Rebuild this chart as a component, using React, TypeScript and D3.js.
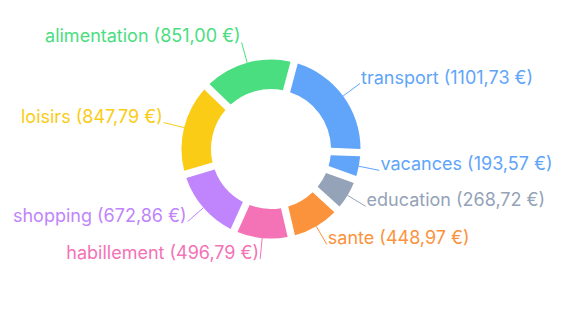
import React from 'react';
import * as d3 from 'd3';

const categories = ['transport', 'vacances', 'education', 'sante', 'habillement', 'shopping', 'loisirs', 'alimentation'];
const amounts = [1101.73, 193.57, 268.72, 448.97, 496.79, 672.86, 847.79, 851.0];
const colors = ['#60a5fa', '#60a5fa', '#94a3b8', '#fb923c', '#f472b6', '#c084fc', '#facc15', '#4ade80'];

const width = 570;
const height = 319;
const cx = 271;
const cy = 149;
const outerRadius = 89.5;
const innerRadius = 60;
const labelRadius = outerRadius + 21;

const fmt = (v: number) => v.toFixed(2).replace('.', ',') + ' €';

export default function App() {
  const data = categories.map((c, i) => ({ label: c, value: amounts[i], color: colors[i] }));

  const pie = d3
    .pie<{ label: string; value: number; color: string }>()
    .sort(null)
    .value((d) => d.value)
    .startAngle(Math.PI / 12)
    .endAngle(Math.PI / 12 + 2 * Math.PI)
    .padAngle(0.085);

  const arcGen = d3
    .arc<d3.PieArcDatum<{ label: string; value: number; color: string }>>()
    .innerRadius(innerRadius)
    .outerRadius(outerRadius)
    .padRadius(88);

  const arcs = pie(data);

  return (
    <svg
      width={width}
      height={height}
      style={{ position: 'absolute', left: 0, top: 0, fontFamily: 'Inter, sans-serif' }}
    >
      <g transform={`translate(${cx}, ${cy})`}>
        {arcs.map((a, i) => {
          const mid = (a.startAngle + a.endAngle) / 2;
          const sx = Math.sin(mid);
          const sy = -Math.cos(mid);
          const x0 = sx * outerRadius;
          const y0 = sy * outerRadius;
          const x1 = sx * labelRadius;
          const y1 = sy * labelRadius;
          const right = x1 > 0;
          return (
            <g key={i}>
              <path d={arcGen(a) || ''} fill={a.data.color} />
              <line x1={x0} y1={y0} x2={x1} y2={y1} stroke={a.data.color} strokeWidth={1} />
              <text
                x={x1 + (right ? 1 : -1)}
                y={y1}
                fill={a.data.color}
                fontSize={18}
                textAnchor={right ? 'start' : 'end'}
              >
                {`${a.data.label} (${fmt(a.data.value)})`}
              </text>
            </g>
          );
        })}
      </g>
    </svg>
  );
}
